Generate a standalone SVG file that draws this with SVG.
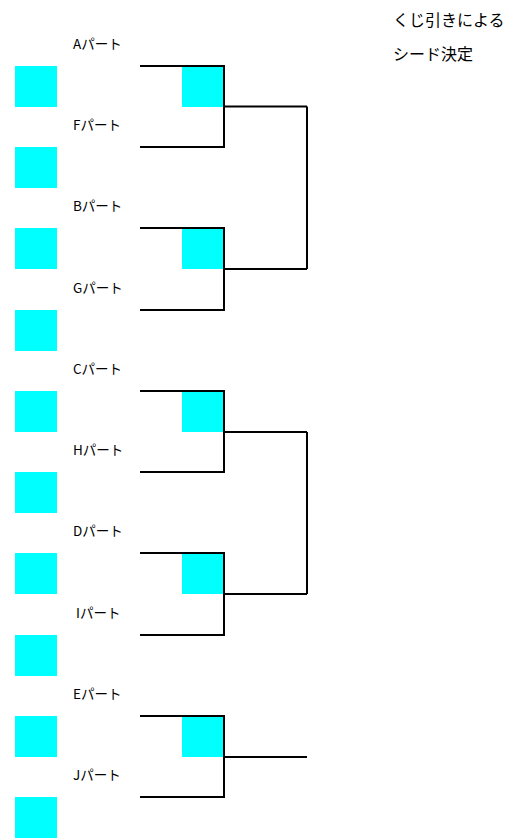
<svg xmlns="http://www.w3.org/2000/svg" width="520" height="838" viewBox="0 0 520 838">
<style>
.sq{fill:#00ffff}
.lbl{font-family:"Noto Sans CJK JP","Noto Sans",sans-serif;font-size:13.5px;fill:#000}
.note{font-family:"Noto Sans CJK JP","Noto Sans",sans-serif;font-size:16px;fill:#000}
.ln{fill:none;stroke:#000;stroke-width:2}
</style>
<rect width="520" height="838" fill="#fff"/>
<g id="note">
<text class="note" x="393" y="26">くじ引きによる</text>
<text class="note" x="393" y="60">シード決定</text>
</g>
<g id="A"><rect class="sq" x="15" y="66" width="42" height="41"/><text class="lbl" x="73" y="49">Aパート</text></g>
<g id="F"><rect class="sq" x="15" y="147" width="42" height="41"/><text class="lbl" x="73" y="130">Fパート</text></g>
<g id="B"><rect class="sq" x="15" y="228" width="42" height="41"/><text class="lbl" x="73" y="211">Bパート</text></g>
<g id="G"><rect class="sq" x="15" y="310" width="42" height="41"/><text class="lbl" x="73" y="293">Gパート</text></g>
<g id="C"><rect class="sq" x="15" y="391" width="42" height="41"/><text class="lbl" x="73" y="374">Cパート</text></g>
<g id="H"><rect class="sq" x="15" y="472" width="42" height="41"/><text class="lbl" x="73" y="455">Hパート</text></g>
<g id="D"><rect class="sq" x="15" y="553" width="42" height="41"/><text class="lbl" x="73" y="536">Dパート</text></g>
<g id="I"><rect class="sq" x="15" y="635" width="42" height="41"/><text class="lbl" x="76" y="618">Iパート</text></g>
<g id="E"><rect class="sq" x="15" y="716" width="42" height="41"/><text class="lbl" x="73" y="699">Eパート</text></g>
<g id="J"><rect class="sq" x="15" y="797" width="42" height="41"/><text class="lbl" x="73" y="780">Jパート</text></g>
<g id="AF"><rect class="sq" x="182" y="66" width="41" height="41"/></g>
<g id="BG"><rect class="sq" x="182" y="228" width="41" height="41"/></g>
<g id="CH"><rect class="sq" x="182" y="391" width="41" height="41"/></g>
<g id="DI"><rect class="sq" x="182" y="553" width="41" height="41"/></g>
<g id="EJ"><rect class="sq" x="182" y="716" width="41" height="41"/></g>
<g id="connectors">
<path class="ln" d="M140 66H224V147H140M224 106.5H307"/>
<path class="ln" d="M140 228H224V310H140M224 269H307"/>
<path class="ln" d="M307 106.5V269"/>
<path class="ln" d="M140 391H224V472H140M224 432H307"/>
<path class="ln" d="M140 553H224V635H140M224 594H307"/>
<path class="ln" d="M307 432V594"/>
<path class="ln" d="M140 716H224V797H140M224 757H307"/>
</g>
</svg>
